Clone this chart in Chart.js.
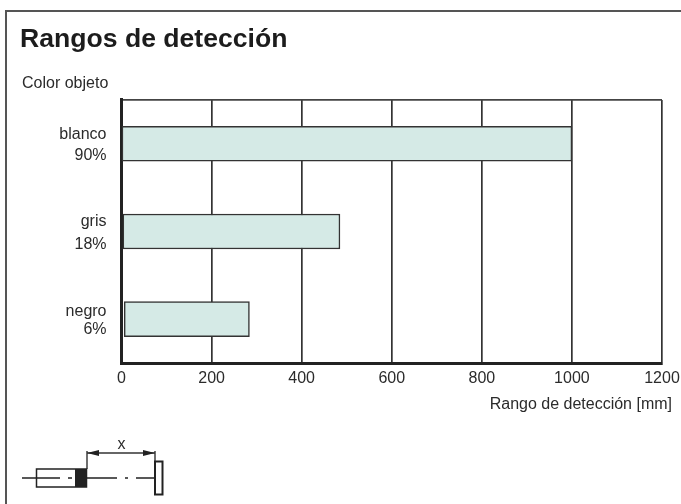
<!DOCTYPE html>
<html>
<head>
<meta charset="utf-8">
<style>
html, body { margin: 0; padding: 0; background: #fff; overflow: hidden; }
canvas { display: block; }
</style>
<script src="https://cdn.jsdelivr.net/npm/chart.js@4/dist/chart.umd.min.js"></script>
</head>
<body>
<canvas id="chart" width="681" height="504"></canvas>
<script>
const categories = [["blanco", "90%"], ["gris", "18%"], ["negro", "6%"]];
const rangeStart = [1, 3, 6];
const rangeEnd = [1000, 485, 284];
const tickValues = [0, 200, 400, 600, 800, 1000, 1200];
const titleText = "Rangos de detección";
const yHeading = "Color objeto";
const xHeading = "Rango de detección [mm]";

const INK = "#2b2b2b";
const FONT = '"Liberation Sans", Arial, sans-serif';
// the two-line labels are not spaced evenly in the original
const labelLineHeights = [1.3, 1.45, 1.1];

// page frame, headings and the little sensor sketch under the chart
const decorations = {
    id: "decorations",
    afterDraw: (chart) => {
        const ctx = chart.ctx;
        ctx.save();

        ctx.strokeStyle = "#555";
        ctx.lineWidth = 2;
        ctx.beginPath();
        ctx.moveTo(6, 504);
        ctx.lineTo(6, 11);
        ctx.lineTo(681, 11);
        ctx.stroke();

        ctx.fillStyle = INK;
        ctx.font = "16px " + FONT;
        ctx.textBaseline = "middle";
        ctx.textAlign = "left";
        ctx.fillText(yHeading, 22, 84);
        ctx.textAlign = "right";
        ctx.fillText(xHeading, 672, 405);

        ctx.strokeStyle = "#222";
        ctx.lineWidth = 1.3;
        ctx.beginPath();
        [[22, 60], [68, 72], [87, 117], [125, 128], [136, 154]].forEach(([a, b]) => {
            ctx.moveTo(a, 478);
            ctx.lineTo(b, 478);
        });
        ctx.moveTo(87, 469);
        ctx.lineTo(87, 451);
        ctx.moveTo(155, 461);
        ctx.lineTo(155, 451);
        ctx.stroke();

        ctx.lineWidth = 1.5;
        ctx.strokeRect(36.5, 469, 50, 18);
        ctx.lineWidth = 2;
        ctx.strokeRect(155, 461.5, 7.5, 33);
        ctx.fillStyle = "#222";
        ctx.fillRect(75, 469, 12, 18);

        ctx.lineWidth = 1.5;
        ctx.strokeStyle = "#333";
        ctx.beginPath();
        ctx.moveTo(87, 453);
        ctx.lineTo(155, 453);
        ctx.stroke();
        [[87, 99], [155, 143]].forEach(([tip, tail]) => {
            ctx.beginPath();
            ctx.moveTo(tip, 453);
            ctx.lineTo(tail, 450);
            ctx.lineTo(tail, 456);
            ctx.closePath();
            ctx.fill();
        });

        ctx.fillStyle = INK;
        ctx.font = "16px " + FONT;
        ctx.textAlign = "center";
        ctx.fillText("x", 121.5, 445);
        ctx.restore();
    },
};

new Chart(document.getElementById("chart"), {
    type: "bar",
    data: {
        labels: categories,
        datasets: [{
            data: rangeStart.map((s, i) => [s, rangeEnd[i]]),
            backgroundColor: "#d5eae6",
            borderColor: "#333",
            borderWidth: 1.5,
            borderSkipped: false,
            barThickness: 35,
        }],
    },
    options: {
        indexAxis: "y",
        responsive: false,
        animation: false,
        layout: { padding: { left: 20, right: 19, top: 0, bottom: 0 } },
        plugins: {
            legend: { display: false },
            tooltip: { enabled: false },
            title: {
                display: true,
                text: titleText,
                align: "start",
                color: "#1c1c1c",
                font: { family: FONT, size: 26.6, weight: "bold" },
                padding: { top: 24, bottom: 44 },
            },
        },
        scales: {
            x: {
                type: "linear",
                min: 0,
                max: 1200,
                afterBuildTicks: (scale) => {
                    scale.ticks = tickValues.map((value) => ({ value }));
                },
                border: { color: "#222", width: 3 },
                grid: { color: "#333", lineWidth: 1.7, drawTicks: false },
                ticks: {
                    color: INK,
                    padding: 6,
                    maxRotation: 0,
                    autoSkip: false,
                    font: { family: FONT, size: 16 },
                    callback: (v) => String(v),
                },
                afterFit: (scale) => {
                    scale.height = 141;
                    scale.paddingRight = 0;
                },
            },
            y: {
                offset: true,
                border: { color: "#222", width: 3 },
                grid: {
                    offset: true,
                    drawTicks: false,
                    color: "#444",
                    // only the top edge of the plot gets a line
                    lineWidth: (c) => (c.index === 0 ? 1.7 : 0),
                },
                ticks: {
                    color: INK,
                    padding: 15,
                    labelOffset: 1.5,
                    font: (c) => ({
                        family: FONT,
                        size: 16,
                        lineHeight: labelLineHeights[c.index],
                    }),
                },
                afterFit: (scale) => { scale.width = 101.5; },
            },
        },
    },
    plugins: [decorations],
});
</script>
</body>
</html>
